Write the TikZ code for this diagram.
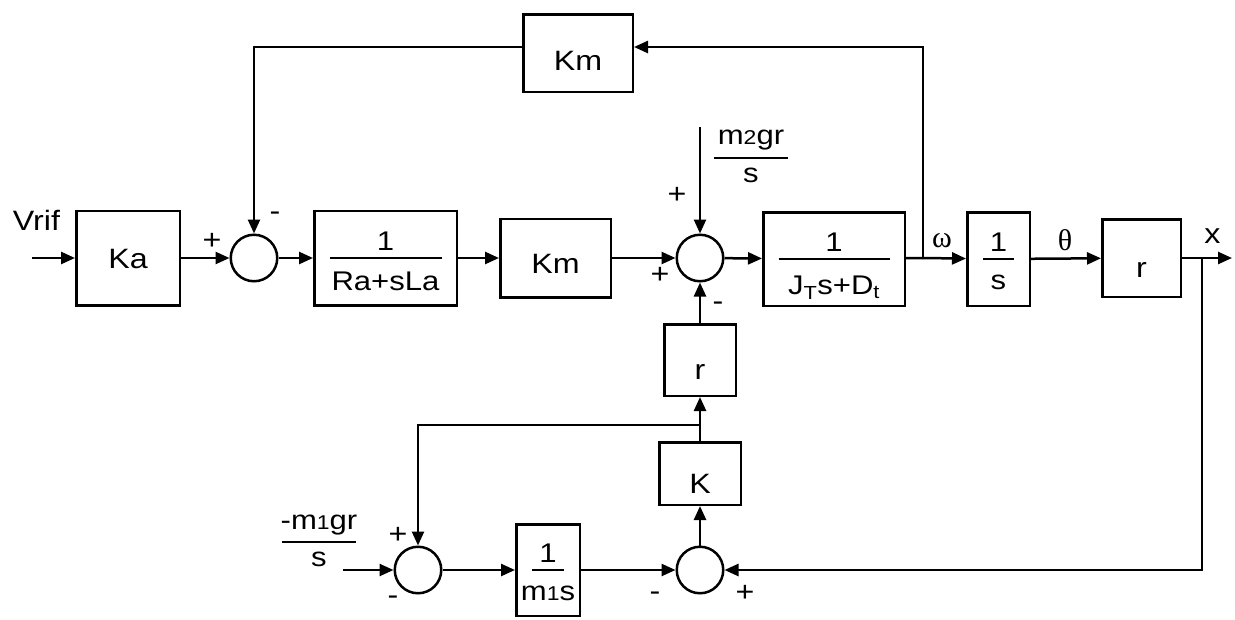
\documentclass[tikz,border=0pt]{standalone}
\usepackage{fontspec}
\setmainfont{Liberation Sans}[FakeStretch=1.15]
\newfontfamily\grk{Liberation Serif}
\usetikzlibrary{arrows.meta}
\newcommand{\lf}{\fontsize{28}{32}\selectfont}
\newcommand{\ff}{\fontsize{27}{31}\selectfont}
\newcommand{\sm}[1]{{\fontsize{20}{24}\selectfont #1}}
% #1 bar width, #2 numerator baseline to bar, #3 bar to denominator top, #4 num, #5 den
\newcommand{\frc}[5]{\raisebox{\dimexpr#2+1.25pt\relax}{\renewcommand{\arraystretch}{0}\begin{tabular}[t]{@{}c@{}}\raisebox{0pt}[\height][0pt]{#4}\\[#2]\rule{#1}{2.5pt}\\[#3]#5\end{tabular}}}
\begin{document}
\begin{tikzpicture}[x=1pt,y=-1pt,line width=2.5pt,
  >={Triangle[length=14pt,width=12pt]},
  blk/.style={draw,rectangle,inner sep=0pt,font=\lf,text depth=0pt},
  fblk/.style={draw,rectangle,inner sep=0pt,font=\ff,text height=0pt,text depth=0pt},
  sumc/.style={draw,circle,minimum size=46.5pt,inner sep=0pt},
  lbl/.style={inner sep=0pt,font=\lf},
  flbl/.style={inner sep=0pt,font=\ff,text height=0pt,text depth=0pt},
  sgn/.style={inner sep=0pt,font=\lf}]
\useasboundingbox (0,0) rectangle (1235,619);

% blocks
\node[blk,minimum width=103.5pt,minimum height=94.5pt,text height=20pt] (ka) at (128,258) {Ka};
\node[sumc] (s1) at (254,258) {};
\node[fblk,minimum width=142.5pt,minimum height=94.5pt] (b1) at (385.5,258) {\frc{112pt}{6pt}{13pt}{1}{Ra+sLa}};
\node[blk,minimum width=110.5pt,minimum height=78.5pt,text height=30pt] (km) at (555.5,258) {Km};
\node[sumc] (s2) at (700,258) {};
\node[fblk,minimum width=141.5pt,minimum height=93.5pt] (jt) at (834,259) {\frc{111pt}{6pt}{16pt}{1}{J\textsubscript{T}s+D\textsubscript{t}}};
\node[fblk,minimum width=62.5pt,minimum height=93.5pt] (is) at (998.5,259) {\frc{31pt}{6pt}{15pt}{1}{s}};
\node[blk,minimum width=78.5pt,minimum height=77.5pt,text height=38pt] (rr) at (1141.5,258) {r};
\node[blk,minimum width=109.5pt,minimum height=77.5pt,text height=34pt] (kmt) at (578,53) {Km};
\node[blk,minimum width=71.5pt,minimum height=71.5pt,text height=38pt] (rm) at (700,360) {r};
\node[blk,minimum width=81.5pt,minimum height=62.5pt,text height=40pt] (kk) at (700,473.5) {K};
\node[sumc] (s3) at (418,570) {};
\node[fblk,minimum width=63.5pt,minimum height=91.5pt] (m1) at (548,570) {\frc{32pt}{6pt}{15pt}{1}{m\sm{1}s}};
\node[sumc] (s4) at (700,570) {};

% free labels
\node[lbl,anchor=base] (vrif) at (36.5,230) {Vrif};
\node[lbl,anchor=base,font=\fontsize{30}{34}\selectfont\grk] (om) at (942,247) {ω};
\node[lbl,anchor=base,font=\fontsize{30}{34}\selectfont\grk] (th) at (1065,250) {θ};
\node[lbl,anchor=base] (xl) at (1212.5,243) {x};
\node[flbl] (m2) at (751,158) {\frc{74pt}{12pt}{9pt}{m\sm{2}gr}{s}};
\node[flbl] (m1g) at (319,542) {\frc{74pt}{11pt}{9pt}{-m\sm{1}gr}{s}};

% signs
\node[sgn] (p1) at (212,241) {+};
\node[sgn] (n1) at (275,216.5) {-};
\node[sgn] (p2a) at (677,195) {+};
\node[sgn] (p2b) at (660,275) {+};
\node[sgn] (n2) at (718,306.5) {-};
\node[sgn] (p3) at (398,535) {+};
\node[sgn] (n3) at (393,600.5) {-};
\node[sgn] (n4) at (655,596.5) {-};
\node[sgn] (p4) at (745,593) {+};

% coordinates
\coordinate (vin) at (32,258);
\coordinate (w) at (923,258);
\coordinate (fb) at (923,47);
\coordinate (fbl) at (254,47);
\coordinate (xo) at (1232,258);
\coordinate (xb) at (1202,258);
\coordinate (xd) at (1202,570);
\coordinate (m2in) at (700,127);
\coordinate (j) at (700,425);
\coordinate (jl) at (418,425);
\coordinate (m1in) at (343,570);

% connectors
\draw[->] (vin) -- (ka);
\draw[->] (ka) -- (s1);
\draw[->] (s1) -- (b1);
\draw[->] (b1) -- (km);
\draw[->] (km) -- (s2);
\draw[->] (s2) -- (jt);
\draw (jt) -- (w);
\draw[->] (w) -- (is);
\draw[->] (is) -- (rr);
\draw[->] (rr) -- (xo);
\draw[->] (w) -- (fb) -- (kmt.east |- fb);
\draw[->] (kmt.west |- fb) -- (fbl) -- (s1);
\draw[->] (m2in) -- (s2);
\draw[->] (rm) -- (s2);
\draw[->] (kk) -- (rm);
\draw[->] (j) -- (jl) -- (s3);
\draw[->] (m1in) -- (s3);
\draw[->] (s3) -- (m1);
\draw[->] (m1) -- (s4);
\draw[->] (s4) -- (kk);
\draw[->] (xb) -- (xd) -- (s4);
\end{tikzpicture}
\end{document}
